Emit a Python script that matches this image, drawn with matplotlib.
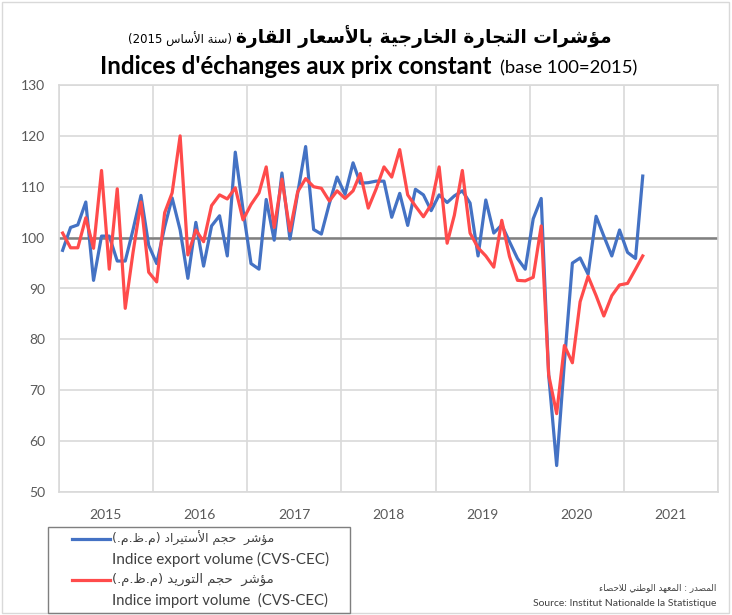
import re
import numpy as np
import pandas as pd
import matplotlib
matplotlib.use("Agg")
from matplotlib import pyplot as plt
import matplotlib.dates as mdates
from matplotlib.lines import Line2D
from matplotlib.patches import Rectangle

# monthly indices, Jan 2015 .. Mar 2021 (base 100 = 2015)
start_month = "2015-01-01"
export_volume = [97.5, 102, 102.5, 107, 91.6, 100.3, 100.3, 95.4, 95.4, 101.5, 108.3, 98.5,
                 94.9, 102.1, 107.8, 101.5, 92, 103, 94.4, 102.3, 104.3, 96.4, 116.8, 105.5,
                 94.9, 93.8, 107.5, 99.5, 112.7, 99.7, 108.7, 117.9, 101.6, 100.7, 106.7, 111.9,
                 108.5, 114.7, 110.7, 110.8, 111.1, 111.1, 104, 108.7, 102.4, 109.5, 108.4, 105.3,
                 108.4, 106.9, 108.2, 109.2, 106.8, 96.4, 107.4, 100.9, 102.5, 99.2, 95.9, 93.8,
                 103.7, 107.7, 73, 55.2, 75.5, 95, 96, 92.8, 104.2, 100.3, 96.4, 101.5,
                 97.1, 95.9, 112.1]
import_volume = [100.9, 98, 98, 103.9, 97.9, 113.2, 93.8, 109.6, 86.1, 97, 107, 93.2,
                 91.3, 104.9, 108.8, 120, 96.6, 101.5, 99.2, 106.3, 108.4, 107.6, 109.8, 103.5,
                 106.5, 108.8, 113.9, 102, 111.5, 101.3, 109, 111.6, 110, 109.7, 107.2, 109.2,
                 107.7, 109.2, 112.6, 105.8, 109.5, 113.9, 111.9, 117.3, 108.4, 106.2, 104.1, 106.5,
                 113.9, 98.9, 104.4, 113.2, 100.9, 98, 96.4, 94.2, 103.4, 96.3, 91.6, 91.5,
                 92.2, 102.3, 73, 65.4, 78.8, 75.4, 87.4, 92.4, 88.6, 84.6, 88.6, 90.7,
                 91, 93.8, 96.4]
base_value = 100
year_first, year_last = 2015, 2021

title_ar = "مؤشرات التجارة الخارجية بالأسعار القارة"
title_ar_small = "(سنة الأساس 2015)"
title_fr = "Indices d'échanges aux prix constant"
title_fr_small = "(base 100=2015)"
export_ar = "مؤشر  حجم الأستيراد (م.ظ.م.)"
export_fr = "Indice export volume (CVS-CEC)"
import_ar = "مؤشر  حجم التوريد (م.ظ.م.)"
import_fr = "Indice import volume  (CVS-CEC)"
source_ar = "المصدر : المعهد الوطني للاحصاء"
source_fr = "Source: Institut Nationalde la Statistique"

BLUE = "#4472C4"
RED = "#FF4B4B"
GRID = "#D9D9D9"
LABEL = "#595959"
LATIN = ["Lato", "DejaVu Sans"]
ARABIC = ["DejaVu Sans"]

# --- minimal arabic shaping (no bidi lib available) ---
DUAL = {'ب': 0xFE8F, 'ت': 0xFE95, 'ج': 0xFE9D, 'ح': 0xFEA1, 'خ': 0xFEA5, 'س': 0xFEB1,
        'ش': 0xFEB5, 'ص': 0xFEB9, 'ط': 0xFEC1, 'ظ': 0xFEC5, 'ع': 0xFEC9, 'ق': 0xFED5,
        'ل': 0xFEDD, 'م': 0xFEE1, 'ن': 0xFEE5, 'ه': 0xFEE9, 'ي': 0xFEF1}
RIGHT = {'أ': 0xFE83, 'ؤ': 0xFE85, 'ا': 0xFE8D, 'ة': 0xFE93, 'د': 0xFEA9, 'ر': 0xFEAD, 'و': 0xFEED}
LAMALEF = {'ا': 0xFEFB, 'أ': 0xFEF7}


def shape(s):
    out = []
    i = 0
    while i < len(s):
        c = s[i]
        prev_join = i > 0 and s[i - 1] in DUAL
        if c == 'ل' and i + 1 < len(s) and s[i + 1] in LAMALEF:
            out.append(chr(LAMALEF[s[i + 1]] + (1 if prev_join else 0)))
            i += 2
            continue
        next_join = i + 1 < len(s) and (s[i + 1] in DUAL or s[i + 1] in RIGHT)
        if c in DUAL:
            if prev_join and next_join:
                f = 3
            elif prev_join:
                f = 1
            elif next_join:
                f = 2
            else:
                f = 0
            out.append(chr(DUAL[c] + f))
        elif c in RIGHT:
            out.append(chr(RIGHT[c] + (1 if prev_join else 0)))
        else:
            out.append(c)
        i += 1
    return ''.join(out)


def rtl(s):
    v = shape(s)[::-1]
    v = re.sub(r'[0-9]+', lambda m: m.group(0)[::-1], v)
    return v.translate(str.maketrans('()', ')('))


W, H = 732, 615


def px(x, y):
    return x / W, 1 - y / H


fig = plt.figure(figsize=(W / 100, H / 100), dpi=100)
renderer = fig.canvas.get_renderer()


def fit(t, width):
    bb = t.get_window_extent(renderer)
    t.set_fontsize(t.get_fontsize() * width / bb.width)


# outer frame
fig.patches.append(Rectangle(px(2, 613), 727 / W, 611 / H, transform=fig.transFigure,
                             fill=False, edgecolor=GRID, lw=1))

ax = fig.add_axes([59 / W, 1 - 492 / H, (718 - 59) / W, (492 - 85) / H])
months = pd.date_range(start_month, periods=len(export_volume), freq="MS") + pd.Timedelta(days=14)

ax.plot(months, export_volume, color=BLUE, lw=2.3, zorder=3)
ax.plot(months, import_volume, color=RED, lw=2.3, zorder=4)
ax.axhline(base_value, color="#808080", lw=1.8, zorder=2)

ax.set_xlim(pd.Timestamp(f"{year_first}-01-01"), pd.Timestamp(f"{year_last + 1}-01-01"))
ax.set_ylim(50, 130)
ax.set_yticks(np.arange(50, 131, 10))
ax.xaxis.set_major_locator(mdates.YearLocator())
ax.xaxis.set_major_formatter(plt.NullFormatter())
ax.xaxis.set_minor_locator(mdates.MonthLocator(bymonth=7))
ax.xaxis.set_minor_formatter(mdates.DateFormatter("%Y"))
ax.grid(True, which="major", color=GRID, lw=1.2, zorder=0)
ax.tick_params(which="both", length=0)
ax.tick_params(axis="y", pad=10, labelsize=10, labelcolor=LABEL)
ax.tick_params(axis="x", which="minor", pad=12, labelsize=10, labelcolor=LABEL)
for lab in ax.get_yticklabels() + ax.get_xticklabels(minor=True):
    lab.set_family(LATIN)
for s in ax.spines.values():
    s.set_color(GRID)
    s.set_linewidth(1.2)

# titles
t = fig.text(*px(612, 37), rtl(title_ar), ha="right", va="center", family=ARABIC,
             fontweight="bold", fontsize=13)
fit(t, 375)
t = fig.text(*px(128, 39), rtl(title_ar_small), ha="left", va="center", family=ARABIC, fontsize=10)
fit(t, 104)
t = fig.text(*px(100, 67), title_fr, ha="left", va="center", family=LATIN,
             fontweight="bold", fontsize=14)
fit(t, 395)
t = fig.text(*px(637, 68), title_fr_small, ha="right", va="center", family=LATIN, fontsize=12)
fit(t, 137)

# legend box
fig.patches.append(Rectangle(px(48, 613), 302 / W, 86 / H, transform=fig.transFigure,
                             fill=False, edgecolor="#7F7F7F", lw=1))
for y, color, ar, fr in [(539, BLUE, export_ar, export_fr), (580, RED, import_ar, import_fr)]:
    fig.lines.append(Line2D([72 / W, 110 / W], [1 - y / H] * 2, transform=fig.transFigure,
                            color=color, lw=2.3))
    t = fig.text(*px(112, y - 1), rtl(ar), ha="left", va="center", family=ARABIC,
                 fontsize=9, color="#404040")
    fit(t, 163)
    t = fig.text(*px(112, y + 20), fr, ha="left", va="center", family=LATIN,
                 fontsize=10.5, color="#404040")
    fit(t, 218)

# source
t = fig.text(*px(716, 588), rtl(source_ar), ha="right", va="center", family=ARABIC,
             fontsize=7, color="#404040")
fit(t, 118)
t = fig.text(*px(716, 603), source_fr, ha="right", va="center", family=LATIN,
             fontsize=8, color="#404040")
fit(t, 186)

fig.savefig("out.png", dpi=100)
